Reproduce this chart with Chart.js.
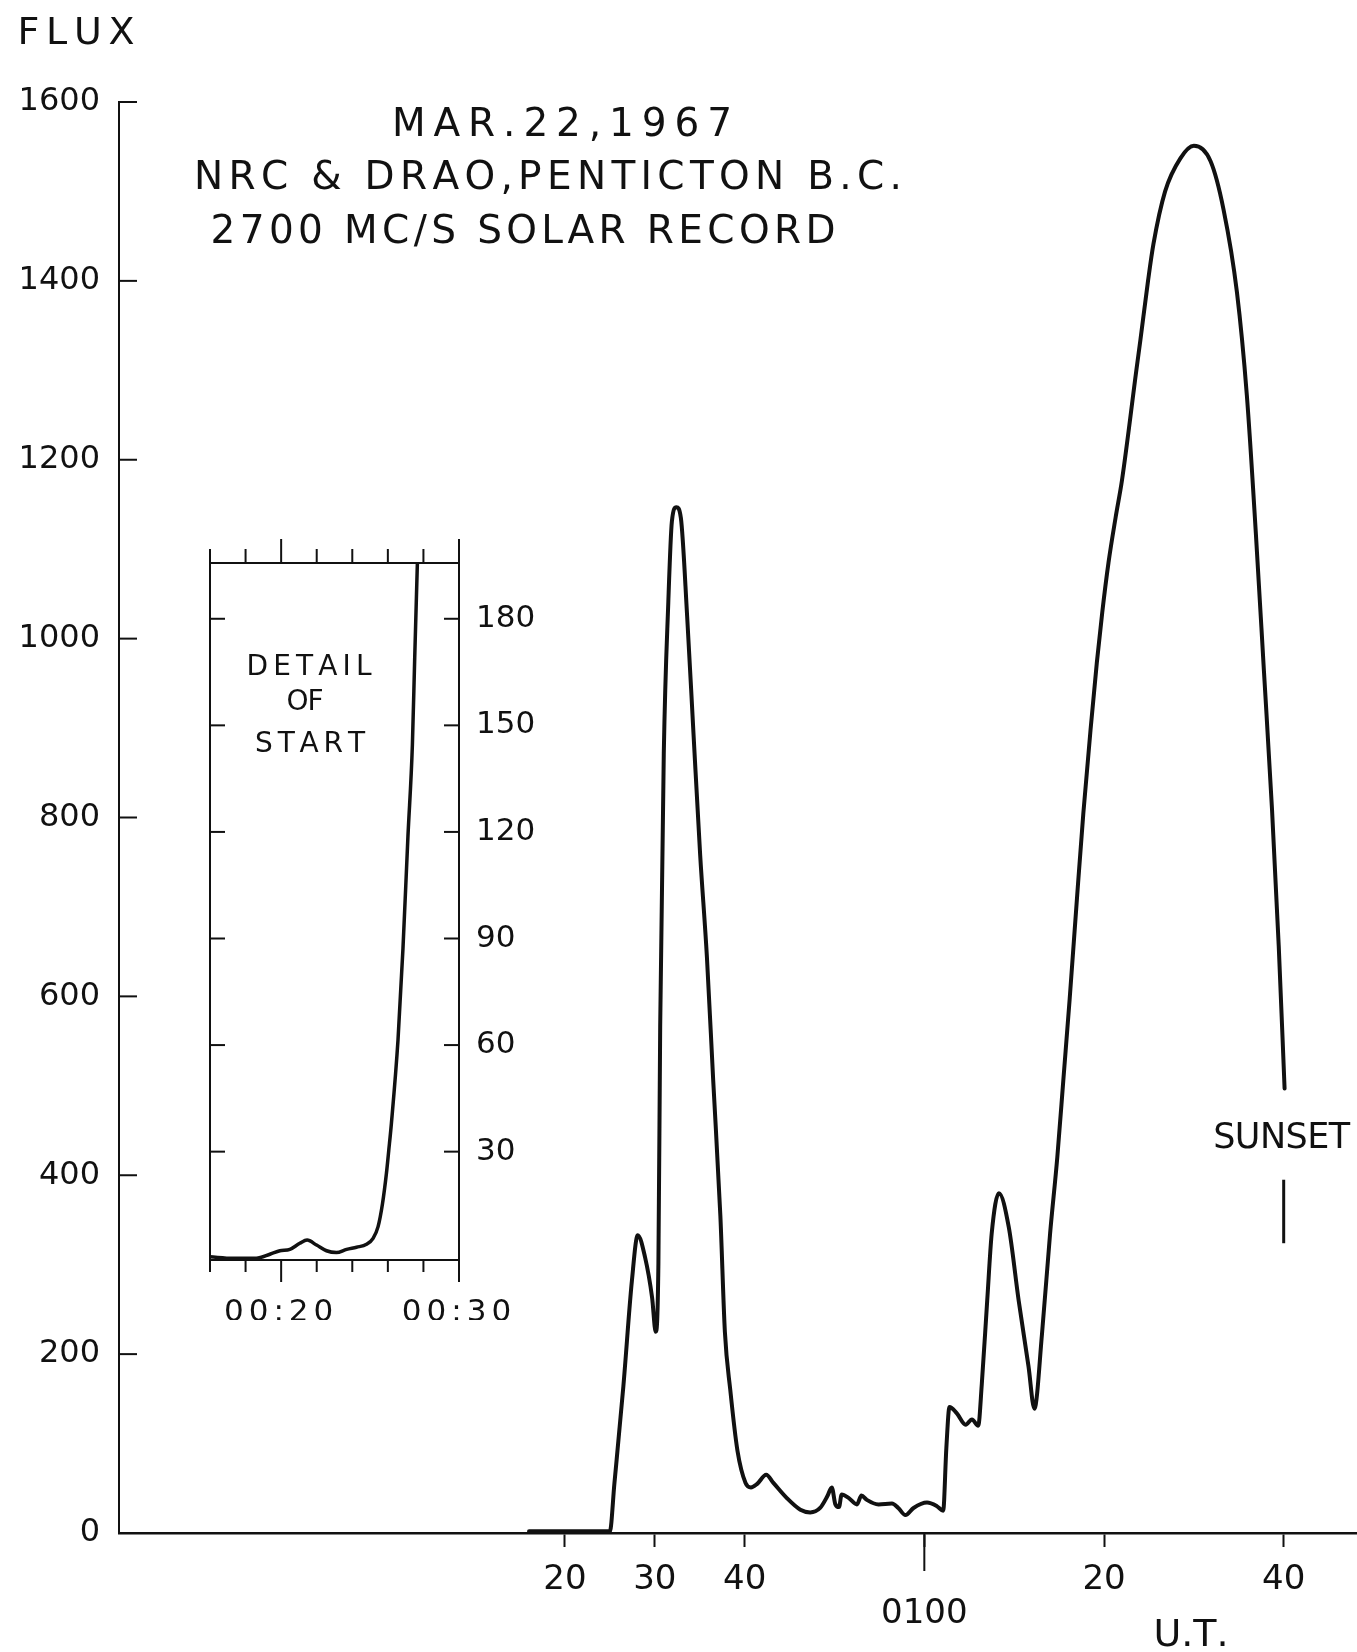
<!DOCTYPE html>
<html>
<head>
<meta charset="utf-8">
<script src="https://cdn.jsdelivr.net/npm/chart.js@4.4.1/dist/chart.umd.min.js"></script>
<style>
html,body{margin:0;padding:0;background:#fff;}
#wrap{position:relative;width:1357px;height:1652px;background:#fff;}
#wrap canvas{position:absolute;left:0;top:0;}
</style>
</head>
<body>
<div id="wrap">
<canvas id="main" width="1357" height="1652"></canvas>
<canvas id="inset" width="1357" height="1652"></canvas>
</div>
<script>
// ---------- DATA (minutes after 00:00 U.T., flux units) ----------
const mainTimes = [16, 25.0, 25.5, 26.5, 27.45, 28.1, 28.9, 29.7, 30.1, 30.4, 30.6, 31.0, 31.5, 31.9, 32.4, 32.9, 33.6, 34.3, 35.05, 35.8, 36.5, 37.3, 37.8, 38.4, 39.2, 40.1, 40.7, 41.4, 42.4, 43.2, 44.7, 46.2, 47.3, 48.4, 49.2, 49.7, 50.1, 50.5, 50.8, 51.6, 52.5, 53.0, 53.6, 54.9, 56.4, 57.1, 57.9, 58.8, 60.3, 61.4, 62.1, 62.45, 62.8, 63.6, 64.6, 65.3, 66.0, 66.4, 67.0, 67.5, 68.3, 69.4, 70.5, 71.6, 72.25, 73.1, 74.0, 74.8, 75.5, 76.17, 77.0, 77.7, 78.5, 79.2, 79.8, 80.5, 81.3, 82.0, 83.6, 84.05, 84.9, 85.5, 86.8, 88.5, 90.0, 91.85, 93.3, 94.8, 95.9, 96.9, 97.8, 98.7, 99.45, 100.1];
const mainFlux  = [2, 2, 55, 164, 282, 333, 309, 263, 225, 301, 568, 872, 1040, 1131, 1147, 1135, 1025, 895, 758, 644, 506, 354, 225, 160, 92, 56, 51, 55, 65, 56, 39, 26, 23, 28, 41, 51, 32, 29, 43, 39, 32, 42, 37, 32, 33, 28, 20, 28, 34, 30, 25, 95, 141, 134, 121, 127, 120, 167, 260, 335, 380, 342, 260, 186, 139, 223, 335, 420, 510, 596, 711, 805, 898, 973, 1029, 1085, 1136, 1177, 1300, 1334, 1400, 1441, 1500, 1537, 1551, 1534, 1480, 1387, 1272, 1118, 964, 809, 656, 497];

const sunsetTimes = [100, 100];
const sunsetFlux  = [324, 395];

const insetTimes = [16, 17.3, 18.6, 19.4, 19.93, 20.49, 21.05, 21.46, 21.99, 22.55, 23.11, 23.68, 24.24, 24.8, 25.17, 25.45, 25.7, 25.92, 26.05, 26.2, 26.57, 26.85, 27.13, 27.38, 27.51, 27.66];
const insetFlux  = [0.4, 0, 0, 1.2, 2.1, 2.5, 4.2, 5.1, 3.7, 2.1, 1.6, 2.5, 3.1, 3.9, 5.6, 8.9, 15.4, 23.9, 30.3, 38, 61.4, 87.2, 118.8, 144.6, 169, 195.7];

const xTickValues = [20, 30, 40, 60, 80, 100];
const xTickLabels = ['20', '30', '40', '0100', '20', '40'];
const yTickValues = [0, 200, 400, 600, 800, 1000, 1200, 1400, 1600];

const insetXTickValues = [16, 18, 20, 22, 24, 26, 28, 30];
const insetXLabelValues = [20, 30];
const insetXLabels = ['00:20', '00:30'];
const insetYTickValues = [30, 60, 90, 120, 150, 180];

const yAxisTitle = 'FLUX';
const xAxisTitle = 'U.T.';
const titleLines = ['MAR.22,1967', 'NRC & DRAO,PENTICTON B.C.', '2700 MC/S SOLAR RECORD'];
const sunsetLabel = 'SUNSET';
const insetNote = ['DETAIL', 'OF', 'START'];

// ---------- STYLE ----------
const INK = '#111';
const FONT = "'DejaVu Sans', 'Liberation Sans', sans-serif";
const CAP = 0.729; // cap height of DejaVu Sans, in em

function seg(ctx, x1, y1, x2, y2) {
  ctx.beginPath(); ctx.moveTo(x1, y1); ctx.lineTo(x2, y2); ctx.stroke();
}
// draw capitals centred at (cx, cy), spread to a given width
function drawFitted(ctx, text, cx, cy, width, size) {
  ctx.font = size + 'px ' + FONT;
  ctx.textAlign = 'left';
  ctx.textBaseline = 'alphabetic';
  const chars = Array.from(text);
  const ws = chars.map(c => ctx.measureText(c).width);
  const natural = ws.reduce((a, b) => a + b, 0);
  const gap = chars.length > 1 ? (width - natural) / (chars.length - 1) : 0;
  let x = cx - width / 2;
  const base = cy + CAP * size / 2;
  chars.forEach((c, i) => { ctx.fillText(c, x, base); x += ws[i] + gap; });
}

const mainDecor = {
  id: 'mainDecor',
  afterDraw(chart) {
    const {ctx, chartArea: a, scales: {x, y}} = chart;
    ctx.save();
    ctx.strokeStyle = INK;
    ctx.fillStyle = INK;
    ctx.lineWidth = 2;
    // inward ticks on flux axis
    yTickValues.forEach(v => {
      const py = y.getPixelForValue(v);
      seg(ctx, a.left, py, a.left + 18, py);
    });
    // longer hour tick at 0100
    const ph = x.getPixelForValue(60);
    seg(ctx, ph, a.bottom, ph, a.bottom + 38);

    // texts
    drawFitted(ctx, yAxisTitle, 76, 30, 117, 38);
    drawFitted(ctx, titleLines[0], 562, 122, 340, 39);
    drawFitted(ctx, titleLines[1], 548, 175, 708, 39);
    drawFitted(ctx, titleLines[2], 523, 229, 625, 39);
    drawFitted(ctx, sunsetLabel, x.getPixelForValue(100) - 2, y.getPixelForValue(445), 137, 35);
    drawFitted(ctx, xAxisTitle, 1191, 1632, 75, 38);
    ctx.restore();
  }
};

new Chart(document.getElementById('main'), {
  type: 'line',
  data: {
    datasets: [
      {
        data: mainTimes.map((t, i) => ({x: t, y: mainFlux[i]})),
        borderColor: INK, borderWidth: 4, pointRadius: 0,
        cubicInterpolationMode: 'monotone', fill: false,
        borderCapStyle: 'round', borderJoinStyle: 'round'
      },
      {
        data: sunsetTimes.map((t, i) => ({x: t, y: sunsetFlux[i]})),
        borderColor: INK, borderWidth: 3, pointRadius: 0, fill: false
      }
    ]
  },
  options: {
    responsive: false, devicePixelRatio: 1, animation: false,
    layout: {padding: {top: 102, left: 0, right: 0, bottom: 0}},
    plugins: {legend: {display: false}, tooltip: {enabled: false}, title: {display: false}},
    scales: {
      x: {
        type: 'linear', min: -29.64, max: 108.16,
        afterBuildTicks: s => { s.ticks = xTickValues.map(v => ({value: v})); },
        afterFit: s => { s.height = 119; },
        ticks: {
          autoSkip: false, maxRotation: 0, minRotation: 0,
          callback: (v, i) => xTickLabels[i] === '0100' ? ['', xTickLabels[i]] : xTickLabels[i],
          font: {family: FONT, size: 34, lineHeight: 1.0},
          color: INK, padding: 16
        },
        grid: {display: true, drawOnChartArea: false, drawTicks: true, tickLength: 14, tickWidth: 2, tickColor: INK, color: INK},
        border: {display: true, color: INK, width: 2.5}
      },
      y: {
        type: 'linear', min: 0, max: 1600,
        afterBuildTicks: s => { s.ticks = yTickValues.map(v => ({value: v})); },
        afterFit: s => { s.width = 119; },
        ticks: {font: {family: FONT, size: 32}, color: INK, padding: 19, callback: v => String(v)},
        grid: {display: false, drawTicks: false},
        border: {display: true, color: INK, width: 2}
      }
    }
  },
  plugins: [mainDecor]
});

const insetDecor = {
  id: 'insetDecor',
  afterUpdate(chart) {
    const sx = chart.scales.x;
    if (sx && !sx._spaced && 'letterSpacing' in chart.ctx) {
      const orig = sx.drawLabels;
      sx.drawLabels = function (area) {
        const c = this.ctx;
        const prev = c.letterSpacing;
        c.letterSpacing = '5px';
        orig.call(this, area);
        c.letterSpacing = prev;
      };
      sx._spaced = true;
    }
  },
  afterDraw(chart) {
    const {ctx, chartArea: a, scales: {x, y}} = chart;
    ctx.save();
    ctx.strokeStyle = INK;
    ctx.fillStyle = INK;
    ctx.lineWidth = 2;
    ctx.strokeRect(a.left, a.top, a.right - a.left, a.bottom - a.top);
    insetXTickValues.forEach(t => {
      const px = x.getPixelForValue(t);
      const major = insetXLabelValues.includes(t);
      seg(ctx, px, a.top, px, a.top - (major ? 24 : 14));
      seg(ctx, px, a.bottom, px, a.bottom + (major ? 22 : 12));
    });
    insetYTickValues.forEach(v => {
      const py = y.getPixelForValue(v);
      seg(ctx, a.left, py, a.left + 15, py);
      seg(ctx, a.right, py, a.right - 15, py);
    });
    drawFitted(ctx, insetNote[0], 309, 665, 125, 28);
    drawFitted(ctx, insetNote[1], 305, 700, 37, 28);
    drawFitted(ctx, insetNote[2], 310, 742, 110, 28);
    ctx.restore();
  }
};

new Chart(document.getElementById('inset'), {
  type: 'line',
  data: {
    datasets: [{
      data: insetTimes.map((t, i) => ({x: t, y: insetFlux[i]})),
      borderColor: INK, borderWidth: 3.5, pointRadius: 0,
      cubicInterpolationMode: 'monotone', fill: false
    }]
  },
  options: {
    responsive: false, devicePixelRatio: 1, animation: false,
    layout: {padding: {left: 210, top: 563, right: 1357 - 459 - 100, bottom: 1652 - 1260 - 60}},
    plugins: {legend: {display: false}, tooltip: {enabled: false}, title: {display: false}},
    scales: {
      x: {
        type: 'linear', min: 16, max: 30,
        afterBuildTicks: s => { s.ticks = insetXLabelValues.map(v => ({value: v})); },
        afterFit: s => { s.height = 60; },
        ticks: {
          autoSkip: false, maxRotation: 0, minRotation: 0,
          callback: (v, i) => insetXLabels[i],
          font: {family: FONT, size: 31, lineHeight: 1.0}, color: INK, padding: 37
        },
        grid: {display: false, drawTicks: false},
        border: {display: false}
      },
      y: {
        type: 'linear', position: 'right', min: -0.5, max: 195.7,
        afterBuildTicks: s => { s.ticks = insetYTickValues.map(v => ({value: v})); },
        afterFit: s => { s.width = 100; },
        ticks: {font: {family: FONT, size: 31}, color: INK, padding: 17, callback: v => String(v)},
        grid: {display: false, drawTicks: false},
        border: {display: false}
      }
    }
  },
  plugins: [insetDecor]
});
</script>
</body>
</html>
